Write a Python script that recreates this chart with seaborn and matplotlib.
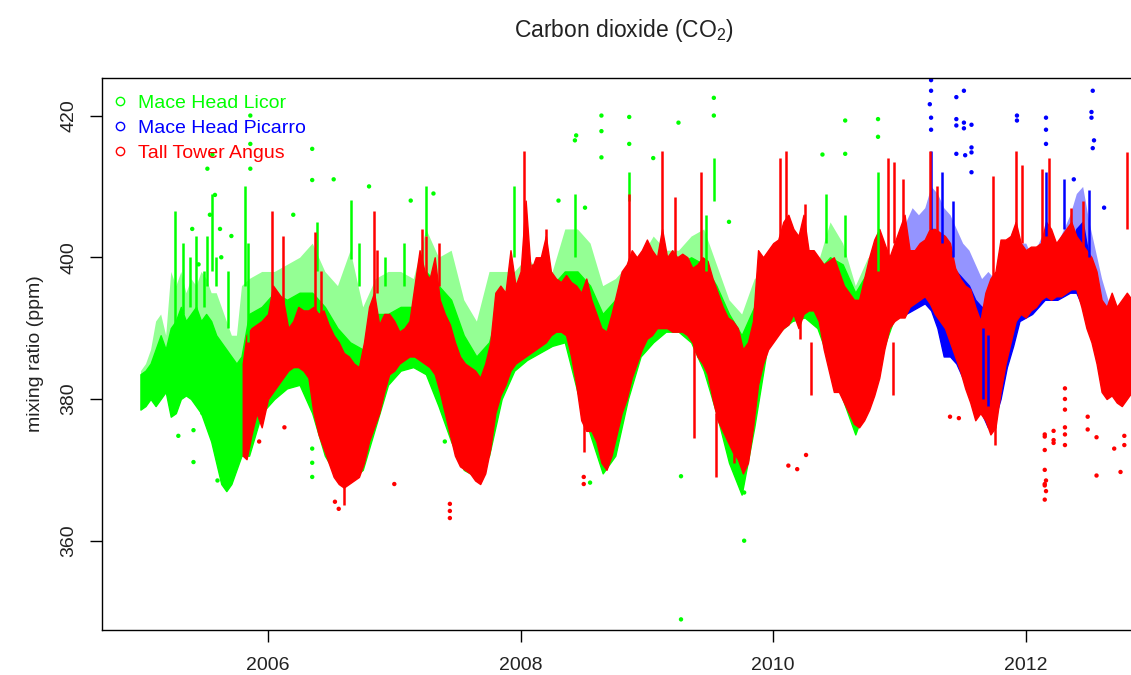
import numpy as np
import matplotlib
matplotlib.use("Agg")
import matplotlib.pyplot as plt
import seaborn as sns
from matplotlib.lines import Line2D

# ---------------- data ----------------
series_names = ["Mace Head Licor", "Mace Head Picarro", "Tall Tower Angus"]
series_colors = ["#00FF00", "#0000FF", "#FF0000"]

# Mace Head Licor: dense band (lo..hi) and sparse upper extent (top)
licor_t = [2004.99, 2005.03, 2005.07, 2005.11, 2005.15, 2005.19, 2005.23, 2005.27, 2005.31, 2005.35,
           2005.39, 2005.43, 2005.47, 2005.51, 2005.55, 2005.59, 2005.63, 2005.67, 2005.71, 2005.75,
           2005.79,
           2005.85, 2005.95, 2006.05, 2006.15, 2006.25, 2006.35, 2006.45, 2006.55, 2006.65, 2006.75,
           2006.85, 2006.95, 2007.05, 2007.15, 2007.25, 2007.35, 2007.45, 2007.55, 2007.65, 2007.75,
           2007.85, 2007.95, 2008.05, 2008.15, 2008.25, 2008.35, 2008.45, 2008.55, 2008.65, 2008.75,
           2008.85, 2008.95, 2009.05, 2009.15, 2009.25, 2009.35, 2009.45, 2009.55, 2009.65, 2009.75,
           2009.85, 2009.95, 2010.05, 2010.15, 2010.25, 2010.35, 2010.45, 2010.55, 2010.65, 2010.75,
           2010.85, 2010.95]
licor_lo = [378.5, 379, 380, 379, 380, 381, 377.5, 378, 380, 380.5,
            380, 379, 378, 376, 374, 371, 368, 367, 368, 370,
            372,
            372, 378, 380, 381.5, 382, 378, 372, 369, 368.5, 370,
            376, 382, 384, 384.5, 383.5, 379, 374, 370, 369, 372,
            380, 384, 385.5, 386.5, 387.5, 388, 381, 375, 369.5, 372,
            380, 386, 388, 389.5, 389.5, 388, 384, 378, 371, 366.5,
            376, 387, 389.5, 391, 391.5, 390, 385, 380, 375, 380,
            386, 391]
licor_hi = [383.5, 384, 385, 387, 389, 387, 390, 391, 393, 391,
            392, 393, 391, 392, 391, 389, 388, 387, 386, 385,
            386,
            392, 393, 395, 394, 395, 395, 393, 390, 388, 387,
            392, 392, 393, 393, 398, 396, 394, 389, 386, 388,
            394, 396, 396, 396, 396, 398, 398, 396, 392, 394,
            396, 398, 399, 399, 399, 400, 399, 396, 392, 389,
            393, 396, 398, 398, 398, 398, 400, 399, 395, 398,
            396, 395]
licor_top = [384, 385, 387, 391, 392, 389, 398, 396, 398, 395,
             397, 396, 398, 397, 395, 395, 393, 391, 389, 389,
             396,
             397, 398, 398, 399, 400, 402, 398, 396, 401, 393,
             397, 398, 398, 397, 404, 400, 401, 394, 391, 398,
             398, 398, 400, 398, 398, 404, 404, 402, 396, 397,
             399, 400, 403, 401, 401, 403, 404, 399, 394, 392,
             397, 398, 400, 399, 400, 399, 405, 402, 396, 400,
             398, 395]
# vertical runs of Licor points (time, low, high)
licor_run_t = [2005.26, 2005.33, 2005.38, 2005.43, 2005.49, 2005.52, 2005.56, 2005.59, 2005.68, 2005.82,
               2005.84, 2006.66, 2006.39, 2007.25, 2007.08, 2007.95, 2008.43, 2008.86, 2009.53, 2010.42,
               2010.57, 2010.83, 2006.72, 2006.93, 2009.47]
licor_run_lo = [390, 392, 393, 392, 393, 396, 398, 396, 390, 396,
                388, 399.8, 398, 403, 396, 400, 400, 408, 408, 402,
                400, 398, 396, 396, 398]
licor_run_hi = [406.5, 402, 400, 403, 398, 403, 409, 400, 398, 410,
                402, 408.1, 405, 410, 402, 410, 409, 412, 414, 409,
                406, 412, 402, 400, 406]
# isolated Licor points
licor_pt_t = [2005.29, 2005.48, 2005.52, 2005.56, 2005.58, 2005.54, 2005.62, 2005.63, 2005.86, 2005.86,
              2005.86, 2005.60, 2005.45, 2005.40, 2005.71, 2005.41, 2005.41,
              2006.35, 2006.35, 2006.35, 2006.35, 2006.35, 2007.40, 2008.55, 2009.27, 2009.27,
              2009.77, 2009.77, 2009.25, 2009.05, 2010.39, 2010.83, 2010.83, 2010.57, 2010.57,
              2008.43, 2008.44, 2008.64, 2008.64, 2008.64, 2008.86, 2008.86, 2009.53, 2009.53,
              2006.52, 2007.13, 2007.31, 2008.30, 2008.51, 2006.20, 2006.80, 2009.65]
licor_pt_v = [374.8, 378, 412.5, 414.5, 408.8, 406, 404, 400, 420, 416,
              412.5, 368.5, 399, 404, 403, 375.6, 371.1,
              415.3, 410.9, 373, 371, 369, 374, 368.2, 369.1, 348.9,
              366.8, 360, 419, 414, 414.5, 419.5, 417, 419.3, 414.6,
              416.5, 417.2, 420, 417.8, 414.1, 419.8, 416, 422.5, 420,
              411, 408, 409, 408, 407, 406, 410, 405]

# Mace Head Picarro
picarro_t = [2011.00, 2011.05, 2011.10, 2011.15, 2011.20, 2011.25, 2011.30, 2011.35, 2011.40, 2011.45,
             2011.50, 2011.55, 2011.60, 2011.65, 2011.70, 2011.75, 2011.80, 2011.85, 2011.90, 2011.95,
             2012.00, 2012.05, 2012.10, 2012.15, 2012.20, 2012.25, 2012.30, 2012.35, 2012.40, 2012.45,
             2012.50, 2012.55, 2012.60, 2012.65, 2012.70, 2012.75]
picarro_lo = [392, 392, 392.5, 393, 393.5, 392.5, 390, 386, 386, 385,
              383, 381, 379, 378, 376, 377, 380, 384.5, 387.5, 391,
              391.5, 392, 393, 394, 394, 394, 394.5, 395, 395, 393,
              390, 388, 384, 382, 381, 381]
picarro_hi = [395, 399, 401, 400, 401, 402, 401, 400, 399, 398,
              397, 396, 394, 393, 393, 392, 394, 396, 398, 398,
              398, 397, 398, 400, 399, 399, 400, 401, 404, 405,
              400, 396, 393, 391, 390, 390]
picarro_top = [398, 405, 407, 406, 407, 410, 409, 407, 406, 404,
               402, 401, 399, 397, 398, 397, 399, 402, 404, 402,
               402, 400, 402, 404, 403, 402, 404, 406, 409, 410,
               405, 401, 397, 394, 393, 392]
picarro_run_t = [2011.25, 2011.34, 2011.42, 2012.16, 2012.30, 2012.50, 2011.66, 2011.70]
picarro_run_lo = [404, 402, 400, 403, 404, 400, 380, 379]
picarro_run_hi = [415, 412, 408, 412, 411, 409.5, 390, 389]
picarro_pt_t = [2011.25, 2011.25, 2011.24, 2011.25, 2011.25, 2011.51, 2011.51, 2011.51, 2011.52, 2011.45,
                2011.45, 2011.45, 2011.45, 2011.57, 2011.57, 2011.57, 2011.57, 2011.93, 2011.93, 2012.16,
                2012.16, 2012.16, 2012.53, 2012.52, 2012.52, 2012.54, 2012.53, 2012.38, 2012.62]
picarro_pt_v = [425, 423.5, 421.6, 419.7, 418, 423.5, 419, 418.2, 414.4, 422.6,
                419.5, 418.6, 414.6, 418.7, 415.5, 414.8, 412, 420, 419.3, 419.7,
                418, 416, 423.5, 420.5, 419.7, 416.5, 415.4, 411, 407]

# Tall Tower Angus
angus_t = [2005.80, 2005.83, 2005.87, 2005.91, 2005.95, 2006.00, 2006.04, 2006.08, 2006.12, 2006.16,
           2006.20, 2006.24, 2006.28, 2006.32, 2006.36, 2006.40, 2006.44, 2006.48, 2006.52, 2006.56,
           2006.60, 2006.64, 2006.68, 2006.72, 2006.76, 2006.80, 2006.84, 2006.88, 2006.92, 2006.96,
           2007.00, 2007.04, 2007.08, 2007.12, 2007.16, 2007.20, 2007.24, 2007.28, 2007.32, 2007.36,
           2007.40, 2007.44, 2007.48, 2007.52, 2007.56, 2007.60, 2007.64, 2007.68, 2007.72, 2007.76,
           2007.80, 2007.84, 2007.88, 2007.92, 2007.96, 2008.00, 2008.04, 2008.08, 2008.12, 2008.16,
           2008.20, 2008.24, 2008.28, 2008.32, 2008.36, 2008.40, 2008.44, 2008.48, 2008.52, 2008.56,
           2008.60, 2008.64, 2008.68, 2008.72, 2008.76, 2008.80, 2008.84, 2008.88, 2008.92, 2008.96,
           2009.00, 2009.04, 2009.08, 2009.12, 2009.16, 2009.20, 2009.24, 2009.28, 2009.32, 2009.36,
           2009.40, 2009.44, 2009.48, 2009.52, 2009.56, 2009.60, 2009.64, 2009.68, 2009.72, 2009.76,
           2009.80, 2009.84, 2009.88, 2009.92, 2009.96, 2010.00, 2010.04, 2010.08, 2010.12, 2010.16,
           2010.20, 2010.24, 2010.28, 2010.32, 2010.36, 2010.40, 2010.44, 2010.48, 2010.52, 2010.56,
           2010.60, 2010.64, 2010.68, 2010.72, 2010.76, 2010.80, 2010.84, 2010.88, 2010.92, 2010.96,
           2011.00, 2011.04, 2011.08, 2011.12, 2011.16, 2011.20, 2011.24, 2011.28, 2011.32, 2011.36,
           2011.40, 2011.44, 2011.48, 2011.52, 2011.56, 2011.60, 2011.64, 2011.68, 2011.72, 2011.76,
           2011.80, 2011.84, 2011.88, 2011.92, 2011.96, 2012.00, 2012.04, 2012.08, 2012.12, 2012.16,
           2012.20, 2012.24, 2012.28, 2012.32, 2012.36, 2012.40, 2012.44, 2012.48, 2012.52, 2012.56,
           2012.60, 2012.64, 2012.68, 2012.72, 2012.76, 2012.80, 2012.84]
angus_lo = [372, 371.5, 375, 378, 376, 380, 381, 382, 383, 384,
            384.5, 384.5, 384, 383, 378, 375, 373, 371, 369, 368,
            367.5, 368, 368.5, 369, 371, 374, 376, 378, 381, 383.5,
            384, 385, 385.5, 386, 386, 385.5, 385, 384.5, 383.5, 381,
            378, 375, 372, 370.5, 370, 369.5, 368.5, 368, 369.5, 373,
            378, 380.5, 382, 384, 385, 385.5, 386, 386.5, 387, 387.5,
            388, 389, 389.5, 389.5, 389, 386, 382, 377, 375.5, 375.5,
            374, 371, 370, 372, 375, 378, 380, 383, 385, 387,
            388.5, 389, 390, 390, 390, 389.5, 389.5, 389.5, 389, 388,
            386, 385, 383.5, 380, 377, 375.5, 374, 372.5, 371.5, 369.5,
            371, 376, 382, 385, 387, 388, 389, 390, 390.5, 392,
            390, 392, 392.5, 392.5, 391, 387, 384, 381, 381, 379.5,
            378, 376.5, 376, 377, 378.5, 380.5, 383, 387, 390, 391,
            391.5, 391.5, 393, 393.5, 394, 394.5, 393.5, 392, 391, 390,
            388, 386, 384, 381.5, 379.5, 377, 378, 377, 375, 376,
            381, 385, 388, 391, 392, 391.5, 392.5, 393, 394, 394.5,
            394, 394.5, 394.5, 395, 395.5, 395.5, 393, 390, 388, 385,
            381, 380, 380.5, 379.5, 379, 380, 381]
angus_hi = [385, 389, 390, 390.5, 391, 392, 396, 395, 394, 390,
            391, 393, 392.5, 392.5, 393, 392, 392.5, 390.5, 389, 388,
            386.5, 386, 385, 384.5, 388, 393, 395, 390.5, 392, 392,
            391, 389.5, 390, 391, 396, 401, 398, 397, 400, 394,
            392, 390.5, 388, 386, 385, 384.5, 384, 383, 385, 388,
            395, 396, 395, 401, 396, 398, 408, 398, 400, 400,
            403, 398, 397, 396.5, 397.5, 396.5, 396, 395, 397, 394,
            392, 390, 389.5, 392, 395, 398, 399, 401, 400, 401,
            402.5, 401, 400, 404, 400, 401, 400, 400.5, 400, 398.5,
            399, 400, 399.5, 397, 395, 393, 391.5, 391, 390, 387,
            388, 391, 401, 400, 401, 402, 402.5, 405, 406, 404,
            403, 406, 401, 401, 400, 399, 399.5, 400, 398, 396,
            395, 394, 394, 397, 400, 402.5, 404, 402, 400, 402,
            404, 406, 401, 401, 402, 402.5, 404, 404, 403.5, 403,
            402, 398.5, 397, 396, 395.5, 393, 391, 395, 397, 398,
            402.5, 402.5, 403, 405, 402, 401, 401.5, 401.5, 402, 405,
            404, 402, 403, 404, 405, 403, 402, 401, 400, 398,
            394, 393, 395, 393, 394, 395, 394]
angus_run_t = [2006.03, 2006.12, 2006.37, 2006.42, 2006.84, 2006.86, 2007.22, 2007.25, 2007.35, 2008.03,
               2008.20, 2008.09, 2008.86, 2009.12, 2009.22, 2009.43, 2010.10, 2010.05, 2010.25, 2010.91,
               2010.96, 2011.03, 2011.24, 2011.30, 2011.74, 2011.92, 2011.97, 2012.13, 2012.18, 2012.80,
               2012.36, 2012.45,
               2009.37, 2010.21, 2010.30, 2010.95, 2009.55, 2009.69, 2006.60, 2008.50, 2011.76]
angus_run_lo = [392, 392, 392, 390, 393, 395, 398, 396, 396, 398,
                400, 396, 399, 402, 400, 399, 405, 402, 402, 400,
                402, 404, 404, 403, 397, 404, 402, 402, 404, 404,
                403, 401,
                374.5, 388.4, 380.5, 380.5, 369, 371, 365, 372.5, 373.5]
angus_run_hi = [406.5, 403, 403.5, 398, 406.5, 401, 404, 403, 402, 415,
                404, 399, 409, 415, 408.5, 412, 415, 414, 407.5, 414,
                413.5, 411, 415, 410, 411.5, 415, 413, 412.5, 414, 414.8,
                407, 408,
                388, 391.4, 388, 388, 378, 378, 370, 380, 380]
angus_pt_t = [2007.44, 2007.44, 2007.44, 2006.56, 2006.53, 2006.13, 2005.93, 2007.00, 2010.12, 2010.19,
              2010.26, 2011.47, 2011.40, 2012.15, 2012.15, 2012.15, 2012.15, 2012.15, 2012.15, 2012.15,
              2012.16, 2012.16, 2012.22, 2012.22, 2012.22, 2012.31, 2012.31, 2012.31, 2012.31, 2012.31,
              2012.31, 2012.49, 2012.49, 2012.56, 2012.56, 2012.70, 2012.78, 2012.78, 2012.75, 2008.50,
              2008.50]
angus_pt_v = [365.2, 364.2, 363.2, 364.5, 365.5, 376, 374, 368, 370.6, 370.1,
              372.1, 377.3, 377.5, 375, 374.7, 372.8, 370, 368, 367.8, 365.8,
              368.5, 367, 375.5, 374.2, 373.8, 381.5, 380, 378.5, 376, 375,
              373.5, 377.5, 375.7, 374.6, 369.2, 373, 374.8, 373.5, 369.7, 369,
              368]

# axes text
title_text = "Carbon dioxide (CO$_2$)"
ylabel_text = "mixing ratio (ppm)"
xtick_values = [2006, 2008, 2010, 2012]
ytick_values = [360, 380, 400, 420]

# ---------------- drawing ----------------
sns.set_theme(style="ticks")
plt.rcParams["font.family"] = ["Liberation Sans", "DejaVu Sans"]
plt.rcParams["mathtext.fontset"] = "custom"
plt.rcParams["mathtext.rm"] = "Liberation Sans"
plt.rcParams["mathtext.it"] = "Liberation Sans"

W, H = 1131, 675
AX_L, AX_T, AX_B = 102, 78, 630
fig = plt.figure(figsize=(W / 100, H / 100), dpi=100)
ax = fig.add_axes([AX_L / W, 1 - AX_B / H, (W - AX_L) / W, (AX_B - AX_T) / H])

def draw_series(ax, t, lo, hi, top, run_t, run_lo, run_hi, pt_t, pt_v, color):
    if top is not None:
        ax.fill_between(t, lo, top, facecolor=color, alpha=0.42, linewidth=0)
    ax.fill_between(t, lo, hi, color=color, linewidth=1.0, edgecolor=color)
    ax.vlines(run_t, run_lo, run_hi, color=color, linewidth=1.8)
    sns.scatterplot(x=pt_t, y=pt_v, color=color, s=10, edgecolor="none", ax=ax, legend=False)

draw_series(ax, licor_t, licor_lo, licor_hi, licor_top, licor_run_t, licor_run_lo, licor_run_hi,
            licor_pt_t, licor_pt_v, series_colors[0])
draw_series(ax, picarro_t, picarro_lo, picarro_hi, picarro_top, picarro_run_t, picarro_run_lo,
            picarro_run_hi, picarro_pt_t, picarro_pt_v, series_colors[1])
draw_series(ax, angus_t, angus_lo, angus_hi, None, angus_run_t, angus_run_lo, angus_run_hi,
            angus_pt_t, angus_pt_v, series_colors[2])

x_left = 2006 - (268 - AX_L) / 126.3
x_right = 2006 + (W - 268) / 126.3
ax.set_xlim(x_left, x_right)
ax.set_ylim(347.4, 425.3)

ax.set_xticks(xtick_values)
ax.set_xticklabels([str(v) for v in xtick_values], fontsize=14)
ax.set_yticks(ytick_values)
ax.set_yticklabels([str(v) for v in ytick_values], fontsize=14, rotation=90, va="center")
ax.tick_params(axis="both", direction="out", length=8.4, width=1.0, color="black", labelcolor="#222222")
ax.tick_params(axis="x", pad=11)
ax.tick_params(axis="y", pad=9.5)
for side in ["left", "bottom", "top"]:
    ax.spines[side].set_color("black")
    ax.spines[side].set_linewidth(1.0)
ax.spines["right"].set_visible(False)
ax.set_xlabel("")
ax.set_ylabel(ylabel_text, fontsize=14, color="#222222", labelpad=11.5)
ax.grid(False)

handles = [Line2D([], [], marker="o", linestyle="", markerfacecolor="none", markeredgecolor=c,
                  markersize=6, markeredgewidth=1.0) for c in series_colors]
ax_w, ax_h = W - AX_L, AX_B - AX_T
ax.legend(handles, series_names, loc="upper left", frameon=False, fontsize=14,
          labelcolor=series_colors, handlelength=0.8, handletextpad=0.52, labelspacing=0.37,
          borderaxespad=0.0, borderpad=0.3,
          bbox_to_anchor=(4.7 / ax_w, 1 - 10.7 / ax_h))

fig.text(624 / W, 1 - 30 / H, title_text, ha="center", va="center", fontsize=16.5, color="#222222")

fig.savefig("out.png", dpi=100, facecolor="white")
